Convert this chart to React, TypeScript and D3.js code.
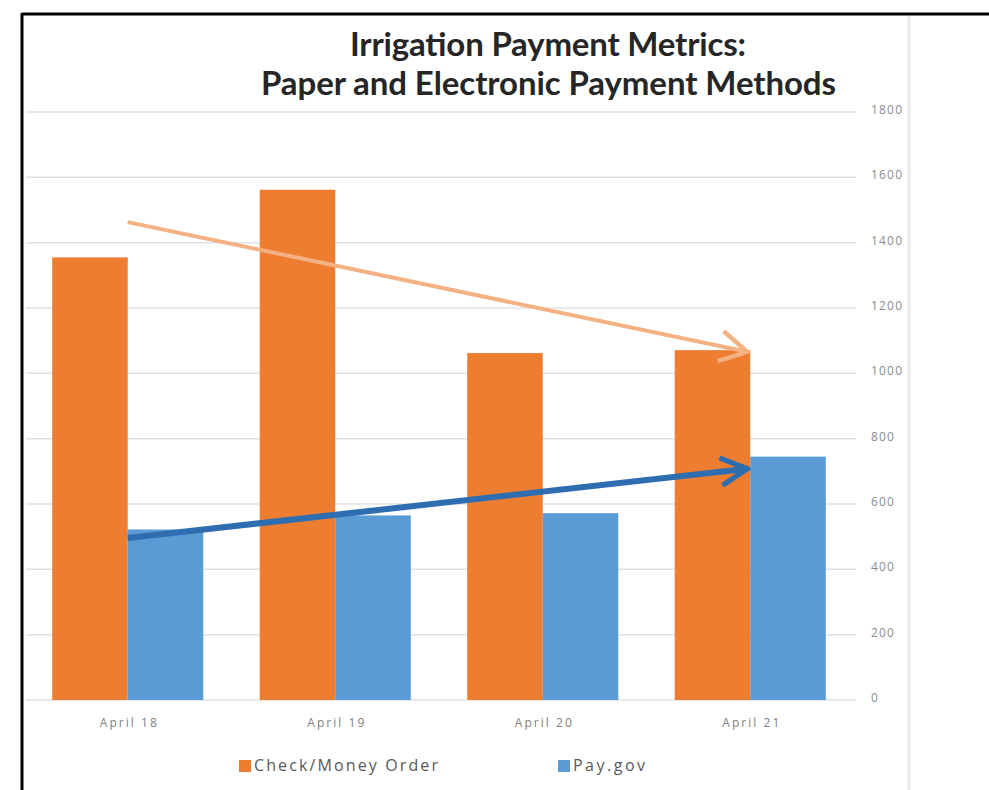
import React from "react";
import * as d3 from "d3";

const categories = ["April 18", "April 19", "April 20", "April 21"];
const seriesNames = ["Check/Money Order", "Pay.gov"];
const checkValues = [1355, 1562, 1062, 1071];
const payGovValues = [522, 565, 572, 745];
const yTicks = [0, 200, 400, 600, 800, 1000, 1200, 1400, 1600, 1800];

// hand-drawn trend arrows, [category, value] at start and end
const paperTrend: [string, number][] = [["April 18", 1463], ["April 21", 1066]];
const electronicTrend: [string, number][] = [["April 18", 496], ["April 21", 708]];

const colors = ["#ED7D31", "#5B9BD5"];

const W = 989;
const H = 790;
const labelFont = "Open Sans, Liberation Sans, Arial, sans-serif";

const App = () => {
  const x = d3.scaleBand().domain(categories).range([24, 854]).padding(0);
  const bw = x.bandwidth();
  const x1 = d3.scaleBand().domain(seriesNames).range([bw * 0.136, bw * 0.864]).padding(0);
  const y = d3.scaleLinear().domain([0, 1800]).range([700, 112]);

  const rows = categories.map((c, i) => ({ cat: c, vals: [checkValues[i], payGovValues[i]] }));

  const arrowX = (c: string, end: boolean) => (x(c) as number) + bw / 2 - (end ? 3 : 0);
  const line = (pts: [string, number][]) =>
    d3.line()([
      [arrowX(pts[0][0], false), y(pts[0][1])],
      [arrowX(pts[1][0], true), y(pts[1][1])],
    ]);

  return (
    <div style={{ position: "absolute", left: 0, top: 0 }}>
      <svg width={W} height={H} xmlns="http://www.w3.org/2000/svg" style={{ display: "block", background: "#fff" }}>
        <defs>
          <marker id="headOrange" viewBox="0 0 10 10" refX="9" refY="5" markerWidth="8.5" markerHeight="8.5" orient="auto">
            <path d="M1,0.5 L9,5 L1,9.5" fill="none" stroke="#F4B183" strokeWidth="1.3" />
          </marker>
          <marker id="headBlue" viewBox="0 0 10 10" refX="9" refY="5" markerWidth="5.5" markerHeight="5.5" orient="auto">
            <path d="M1,0.8 L9,5 L1,9.2" fill="none" stroke="#2E6DB0" strokeWidth="1.6" />
          </marker>
        </defs>

        {/* frame */}
        <line x1={22} y1={14} x2={W} y2={14} stroke="#000" strokeWidth={3} />
        <line x1={22} y1={13} x2={22} y2={H} stroke="#000" strokeWidth={3} />
        <line x1={909} y1={16} x2={909} y2={H} stroke="#e9e9e9" strokeWidth={3} />

        {/* grid + y labels */}
        {yTicks.map((t) => (
          <g key={t}>
            <line x1={26} x2={856} y1={y(t)} y2={y(t)} stroke="#e2e2e2" strokeWidth={1.5} />
            <text x={871} y={y(t) + 2} fontSize={12} letterSpacing={1.2} fill="#8c8c8c" fontFamily={labelFont}>
              {t}
            </text>
          </g>
        ))}

        {/* bars */}
        {rows.map((r) => (
          <g key={r.cat} transform={`translate(${x(r.cat)},0)`}>
            {r.vals.map((v, j) => (
              <rect
                key={j}
                x={x1(seriesNames[j])}
                y={y(v)}
                width={x1.bandwidth()}
                height={y(0) - y(v)}
                fill={colors[j]}
              />
            ))}
            <text
              x={bw / 2 - 28}
              y={727}
              fontSize={12}
              textLength={57}
              lengthAdjust="spacing"
              fill="#7f7f7f"
              fontFamily={labelFont}
            >
              {r.cat}
            </text>
          </g>
        ))}

        {/* trend arrows */}
        <path d={line(paperTrend) || ""} stroke="#F4B183" strokeWidth={4} fill="none" markerEnd="url(#headOrange)" />
        <path d={line(electronicTrend) || ""} stroke="#2E6DB0" strokeWidth={6} fill="none" markerEnd="url(#headBlue)" />

        {/* title */}
        <text x={350} y={56} fontSize={33} textLength={396} lengthAdjust="spacing" fontWeight="bold" fill="#262626" fontFamily="Lato, sans-serif">
          Irrigation Payment Metrics:
        </text>
        <text x={261} y={95} fontSize={33} textLength={575} lengthAdjust="spacing" fontWeight="bold" fill="#262626" fontFamily="Lato, sans-serif">
          Paper and Electronic Payment Methods
        </text>

        {/* legend */}
        {seriesNames.map((s, i) => (
          <g key={s} transform={`translate(${i === 0 ? 239 : 558},760)`}>
            <rect x={0} y={0} width={12} height={12} fill={colors[i]} />
            <text
              x={15}
              y={11}
              fontSize={16}
              textLength={i === 0 ? 184 : 72}
              lengthAdjust="spacing"
              fill="#595959"
              fontFamily={labelFont}
            >
              {s}
            </text>
          </g>
        ))}
      </svg>
    </div>
  );
};

export default App;
